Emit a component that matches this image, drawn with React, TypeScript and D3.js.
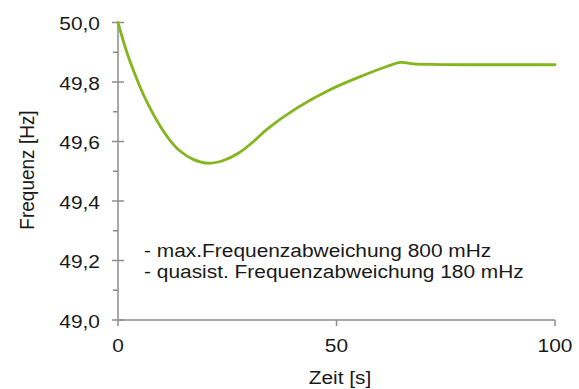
import React from "react";
import * as d3 from "d3";

const timeS = [0, 2.0, 3.9, 5.8, 7.7, 9.6, 11.9, 14.2, 17.2, 20.7, 24.1, 27.7, 31, 34, 40.9, 48.5, 56.1, 61.5, 64.7, 67.6, 71.4, 80, 90, 100];
const freqHz = [50.0, 49.901, 49.825, 49.758, 49.702, 49.653, 49.604, 49.568, 49.540, 49.527, 49.536, 49.562, 49.600, 49.640, 49.712, 49.774, 49.822, 49.852, 49.866, 49.861, 49.859, 49.858, 49.858, 49.858];
const yTicks = [49.0, 49.2, 49.4, 49.6, 49.8, 50.0];
const yMinorTicks = [49.1, 49.3, 49.5, 49.7, 49.9];
const xTicks = [0, 50, 100];
const notes = ["- max.Frequenzabweichung 800 mHz", "- quasist. Frequenzabweichung 180 mHz"];

const W = 579, H = 389;
const FONT = "'Liberation Sans', Arial, sans-serif";
const FS = 19;
const SX = 1.1;

export default function App() {
  const x = d3.scaleLinear().domain([0, 100]).range([118, 555]);
  const y = d3.scaleLinear().domain([49, 50]).range([320, 22.5]);
  const data = timeS.map((t, i) => [t, freqHz[i]] as [number, number]);
  const line = d3.line<[number, number]>().x(d => x(d[0])).y(d => y(d[1])).curve(d3.curveCatmullRom.alpha(0.5));
  const axisColor = "#8c8c8c";
  const fmt = (v: number) => v.toFixed(1).replace(".", ",");
  const T = (props: any) => {
    const { x: tx, y: ty, children, anchor, rotate } = props;
    return (
      <text
        transform={`translate(${tx},${ty})${rotate ? ` rotate(${rotate})` : ""} scale(${rotate ? 1 : SX},${rotate ? SX : 1})`}
        textAnchor={anchor || "start"}
        dominantBaseline="central"
        fontFamily={FONT}
        fontSize={FS}
        fill="#1a1a1a"
      >
        {children}
      </text>
    );
  };
  return (
    <svg width={W} height={H} style={{ position: "absolute", left: 0, top: 0, background: "#fff" }}>
      <line x1={x(0)} x2={x(0)} y1={y(50)} y2={y(49)} stroke={axisColor} strokeWidth={1.5} />
      {yTicks.map(v => (
        <line key={"yt" + v} x1={x(0) - 6} x2={x(0) + 6} y1={y(v)} y2={y(v)} stroke={axisColor} strokeWidth={1.5} />
      ))}
      {yMinorTicks.map(v => (
        <line key={"ym" + v} x1={x(0) - 5} x2={x(0)} y1={y(v)} y2={y(v)} stroke={axisColor} strokeWidth={1.5} />
      ))}
      <line x1={x(0)} x2={x(100)} y1={y(49)} y2={y(49)} stroke={axisColor} strokeWidth={1.5} />
      {xTicks.map(v => (
        <line key={"xt" + v} x1={x(v)} x2={x(v)} y1={y(49)} y2={y(49) + 6} stroke={axisColor} strokeWidth={1.5} />
      ))}
      {yTicks.map(v => (
        <T key={"yl" + v} x={100} y={y(v) + 1} anchor="end">{fmt(v)}</T>
      ))}
      {xTicks.map(v => (
        <T key={"xl" + v} x={x(v)} y={345} anchor="middle">{String(v)}</T>
      ))}
      <T x={340} y={377} anchor="middle">Zeit [s]</T>
      <T x={27} y={170} anchor="middle" rotate={-90}>Frequenz [Hz]</T>
      {notes.map((n, i) => (
        <T key={n} x={144} y={250 + i * 21.6}>{n}</T>
      ))}
      <path d={line(data) || ""} fill="none" stroke="#82b61c" strokeWidth={2.8} strokeLinejoin="round" strokeLinecap="round" />
    </svg>
  );
}
